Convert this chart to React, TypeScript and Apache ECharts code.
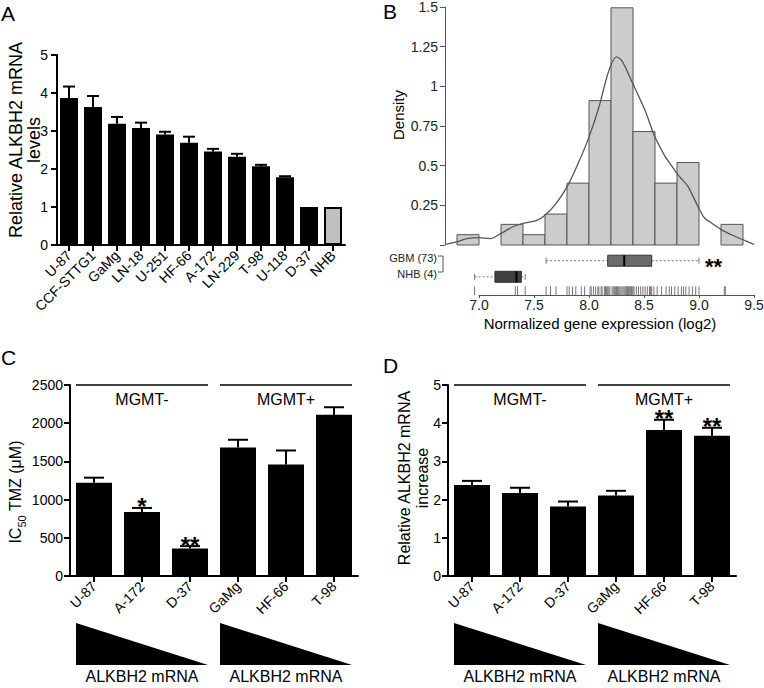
import React, { useEffect, useRef } from 'react';
import * as echarts from 'echarts';

const FONT = '"Liberation Sans", Arial, Helvetica, sans-serif';

// ---------- Panel A ----------
const aCategories = ['U-87', 'CCF-STTG1', 'GaMg', 'LN-18', 'U-251', 'HF-66', 'A-172', 'LN-229', 'T-98', 'U-118', 'D-37', 'NHB'];
const aValues = [3.87, 3.63, 3.19, 3.08, 2.91, 2.69, 2.46, 2.32, 2.07, 1.78, 1.0, 1.0];
const aErrors = [0.3, 0.29, 0.18, 0.14, 0.07, 0.16, 0.07, 0.08, 0.04, 0.03, 0, 0];
const aReference = 'NHB';

// ---------- Panel B ----------
const histEdges = [6.8, 7.0, 7.2, 7.4, 7.6, 7.8, 8.0, 8.2, 8.4, 8.6, 8.8, 9.0, 9.2, 9.4];
const histDensity = [0.065, 0, 0.13, 0.065, 0.195, 0.39, 0.91, 1.495, 0.715, 0.39, 0.52, 0, 0.13];
const densityX = [6.69, 6.8, 6.89, 7.0, 7.1, 7.2, 7.31, 7.4, 7.52, 7.6, 7.7, 7.8, 7.9, 8.0, 8.09, 8.18, 8.25, 8.3, 8.4, 8.51, 8.6, 8.69, 8.75, 8.8, 8.85, 8.9, 8.95, 9.0, 9.05, 9.12, 9.21, 9.3, 9.42, 9.5];
const densityY = [0.004, 0.02, 0.04, 0.046, 0.04, 0.073, 0.115, 0.136, 0.153, 0.188, 0.261, 0.366, 0.512, 0.68, 0.868, 1.098, 1.186, 1.16, 1.014, 0.847, 0.68, 0.56, 0.5, 0.45, 0.41, 0.37, 0.3, 0.23, 0.17, 0.136, 0.094, 0.063, 0.027, 0.004];
const gbmBox = [7.61, 8.17, 8.32, 8.57, 9.0];
const nhbBox = [6.96, 7.145, 7.34, 7.385, 7.42];
const boxLabels = ['GBM (73)', 'NHB (4)'];
const boxStars = ['**', ''];
const rugValues = [
  6.96, 7.33, 7.35, 7.42,
  7.61, 7.65, 7.70,
  7.80, 7.82, 7.85, 7.88, 7.93, 7.96,
  8.01, 8.02, 8.04, 8.06, 8.08, 8.09, 8.11, 8.12, 8.14, 8.15, 8.16, 8.17, 8.18, 8.19,
  8.21, 8.22, 8.23, 8.24, 8.25, 8.26, 8.27, 8.28, 8.29, 8.30, 8.31, 8.32, 8.33, 8.34, 8.35, 8.35, 8.36, 8.37, 8.38, 8.38, 8.39, 8.39, 8.40,
  8.41, 8.43, 8.45, 8.47, 8.49, 8.51, 8.53, 8.55, 8.56, 8.57, 8.59,
  8.62, 8.66, 8.70, 8.73, 8.75, 8.78,
  8.81, 8.84, 8.86, 8.88, 8.91, 8.94, 8.97, 9.00,
  9.23, 9.24,
];

// ---------- Panels C and D ----------
const cdCategories = ['U-87', 'A-172', 'D-37', 'GaMg', 'HF-66', 'T-98'];
const cValues = [1222, 839, 361, 1683, 1461, 2109];
const cErrors = [65, 52, 30, 100, 182, 100];
const cStars = ['', '*', '**', '', '', ''];
const dValues = [2.38, 2.17, 1.82, 2.11, 3.82, 3.67];
const dErrors = [0.11, 0.14, 0.13, 0.12, 0.27, 0.21];
const dStars = ['', '', '', '', '**', '**'];
const groupNames = ['MGMT-', 'MGMT+'];
const groupFrom = [0, 3];
const groupTo = [2, 5];
const triangleLabel = 'ALKBH2 mRNA';

function tstyle(text: string, x: number, y: number, opts: any = {}) {
  return {
    text, x, y,
    fill: opts.fill || '#000',
    fontSize: opts.fontSize || 16,
    fontFamily: FONT,
    fontWeight: opts.fontWeight || 'normal',
    lineHeight: opts.lineHeight,
    align: opts.align || 'center',
    textAlign: opts.align || 'center',
    verticalAlign: 'middle',
    textVerticalAlign: 'middle',
  };
}

function txt(text: string, x: number, y: number, opts: any = {}) {
  return { type: 'text', style: tstyle(text, x, y, opts) };
}

function rotText(id: string, text: string, x: number, y: number, opts: any = {}) {
  return { type: 'text', id, x, y, rotation: Math.PI / 2, style: tstyle(text, 0, 0, opts) };
}

function blackAxisCommon() {
  return {
    axisLine: { show: true, lineStyle: { color: '#000', width: 2 } },
    axisTick: { show: true, length: 6, lineStyle: { color: '#000', width: 2 } },
    splitLine: { show: false },
  };
}

function categoryAxis(gridIndex: number, data: string[]) {
  return {
    type: 'category', gridIndex, data,
    ...blackAxisCommon(),
    axisTick: { show: true, alignWithLabel: true, length: 6, lineStyle: { color: '#000', width: 2 } },
    axisLabel: { rotate: 45, interval: 0, fontSize: 14, color: '#000', fontFamily: FONT, margin: 8 },
  };
}

function valueAxis(gridIndex: number, max: number, interval: number, margin: number) {
  return {
    type: 'value', gridIndex, min: 0, max, interval,
    ...blackAxisCommon(),
    axisTick: { show: true, length: 6, lineStyle: { color: '#000', width: 2 } },
    axisLabel: { fontSize: 14, color: '#000', fontFamily: FONT, margin, formatter: (v: number) => String(v) },
  };
}

function errorSeries(axisIndex: number, values: number[], errors: number[], stars: string[], capWidth: number) {
  return {
    type: 'custom', xAxisIndex: axisIndex, yAxisIndex: axisIndex, clip: false, z: 5,
    data: values.map((v, i) => [i, v, v + errors[i]]),
    renderItem: (params: any, api: any) => {
      const i = api.value(0);
      const p0 = api.coord([i, api.value(1)]);
      const p1 = api.coord([i, api.value(2)]);
      const children: any[] = [];
      if (p0[1] - p1[1] > 0.5) {
        children.push({ type: 'line', shape: { x1: p0[0], y1: p0[1], x2: p1[0], y2: p1[1] }, style: { stroke: '#000', lineWidth: 2 } });
        children.push({ type: 'line', shape: { x1: p1[0] - capWidth / 2, y1: p1[1], x2: p1[0] + capWidth / 2, y2: p1[1] }, style: { stroke: '#000', lineWidth: 2 } });
      }
      const s = stars[params.dataIndex];
      if (s) children.push(txt(s, p1[0], p1[1] - 1, { fontSize: 24, fontWeight: 'bold' }));
      return { type: 'group', children };
    },
  };
}

function groupSeries(axisIndex: number, yMax: number, barW: number) {
  return {
    type: 'custom', xAxisIndex: axisIndex, yAxisIndex: axisIndex, clip: false, z: 4,
    data: groupNames.map((_, i) => [groupFrom[i], groupTo[i]]),
    renderItem: (params: any, api: any) => {
      const name = groupNames[params.dataIndex];
      const tl = api.coord([api.value(0), yMax]);
      const tr = api.coord([api.value(1), yMax]);
      const base = api.coord([api.value(0), 0])[1];
      const left = tl[0] - barW / 2;
      const right = tr[0] + barW / 2;
      const mid = (left + right) / 2;
      return {
        type: 'group',
        children: [
          { type: 'line', shape: { x1: left, y1: tl[1], x2: right, y2: tl[1] }, style: { stroke: '#000', lineWidth: 1.5 } },
          txt(name, mid, tl[1] + 14, { fontSize: 16 }),
          { type: 'polygon', shape: { points: [[left, base + 47], [left, base + 89], [right, base + 89]] }, style: { fill: '#000' } },
          txt(triangleLabel, mid, base + 100, { fontSize: 16 }),
        ],
      };
    },
  };
}

function buildOption() {
  const gridBase = { containLabel: false, outerBoundsMode: 'none' };
  const boxRowY = [2.45, 1.3];
  const boxFill = ['#6b6b6b', '#404040'];
  return {
    animation: false,
    textStyle: { fontFamily: FONT },
    grid: [
      { ...gridBase, left: 57, top: 55, width: 288, height: 190 },
      { ...gridBase, left: 445, top: 7, width: 309, height: 238 },
      { ...gridBase, left: 479, top: 253, width: 275, height: 42 },
      { ...gridBase, left: 70, top: 385, width: 288, height: 191 },
      { ...gridBase, left: 448, top: 385, width: 288, height: 191 },
    ],
    xAxis: [
      categoryAxis(0, aCategories),
      { type: 'value', gridIndex: 1, min: 6.691, max: 9.5, show: false },
      {
        type: 'value', gridIndex: 2, min: 7, max: 9.5, interval: 0.5,
        axisLine: { show: true, lineStyle: { color: '#555', width: 1 } },
        axisTick: { show: true, length: 3, lineStyle: { color: '#555', width: 1 } },
        axisLabel: { fontSize: 14, color: '#222', fontFamily: FONT, margin: 3, formatter: (v: number) => v.toFixed(1) },
        splitLine: { show: false },
      },
      categoryAxis(3, cdCategories),
      categoryAxis(4, cdCategories),
    ],
    yAxis: [
      valueAxis(0, 5, 1, 9),
      {
        type: 'value', gridIndex: 1, min: 0, max: 1.5, interval: 0.25,
        axisLine: { show: true, lineStyle: { color: '#555', width: 1 } },
        axisTick: { show: true, length: 5, lineStyle: { color: '#555', width: 1 } },
        axisLabel: { fontSize: 14, color: '#222', fontFamily: FONT, margin: 7, formatter: (v: number) => (v === 0 ? '' : String(v)) },
        splitLine: { show: false },
      },
      { type: 'value', gridIndex: 2, min: 0, max: 3, show: false },
      valueAxis(3, 2500, 500, 7),
      valueAxis(4, 5, 1, 7),
    ],
    series: [
      // A
      {
        type: 'bar', xAxisIndex: 0, yAxisIndex: 0, barWidth: 18,
        data: aValues.map((v, i) => aCategories[i] === aReference
          ? { value: v, itemStyle: { color: '#c0c0c0', borderColor: '#000', borderWidth: 2 } }
          : { value: v, itemStyle: { color: '#000' } }),
      },
      errorSeries(0, aValues, aErrors, aCategories.map(() => ''), 12),
      // B histogram
      {
        type: 'custom', xAxisIndex: 1, yAxisIndex: 1, z: 2,
        data: histDensity.map((d, i) => [histEdges[i], histEdges[i + 1], d]),
        renderItem: (params: any, api: any) => {
          const d = api.value(2);
          if (!(d > 0)) return { type: 'group', children: [] };
          const p0 = api.coord([api.value(0), d]);
          const p1 = api.coord([api.value(1), 0]);
          return { type: 'rect', shape: { x: p0[0], y: p0[1], width: p1[0] - p0[0], height: p1[1] - p0[1] }, style: { fill: '#cccccc', stroke: '#555', lineWidth: 1 } };
        },
      },
      {
        type: 'line', xAxisIndex: 1, yAxisIndex: 1, z: 3, smooth: 0.3, symbol: 'none',
        lineStyle: { color: '#555', width: 1.3 },
        data: densityX.map((x, i) => [x, densityY[i]]),
      },
      // B boxes
      {
        type: 'custom', xAxisIndex: 2, yAxisIndex: 2, clip: false, z: 3,
        data: [gbmBox, nhbBox].map((b, i) => [...b, boxRowY[i]]),
        renderItem: (params: any, api: any) => {
          const idx = params.dataIndex;
          const ry = api.value(5);
          const X = (k: number) => api.coord([api.value(k), ry])[0];
          const y = api.coord([7, ry])[1];
          const h = 11;
          const dash = { stroke: '#777', lineWidth: 1, lineDash: [2, 2] };
          const children: any[] = [
            { type: 'line', shape: { x1: X(0), y1: y, x2: X(1), y2: y }, style: dash },
            { type: 'line', shape: { x1: X(3), y1: y, x2: X(4), y2: y }, style: dash },
            { type: 'line', shape: { x1: X(0), y1: y - 3, x2: X(0), y2: y + 3 }, style: { stroke: '#777', lineWidth: 1 } },
            { type: 'line', shape: { x1: X(4), y1: y - 3, x2: X(4), y2: y + 3 }, style: { stroke: '#777', lineWidth: 1 } },
            { type: 'rect', shape: { x: X(1), y: y - h / 2, width: X(3) - X(1), height: h }, style: { fill: boxFill[idx], stroke: '#333', lineWidth: 1 } },
            { type: 'line', shape: { x1: X(2), y1: y - h / 2, x2: X(2), y2: y + h / 2 }, style: { stroke: '#000', lineWidth: 2 } },
          ];
          if (boxStars[idx]) children.push(txt(boxStars[idx], X(4) + 6, y + 5.5, { fontSize: 22, fontWeight: 'bold', align: 'left' }));
          return { type: 'group', children };
        },
      },
      // B rug
      {
        type: 'custom', xAxisIndex: 2, yAxisIndex: 2, clip: false, z: 3,
        data: rugValues.map((v) => [v, 0]),
        renderItem: (params: any, api: any) => {
          const p0 = api.coord([api.value(0), 0]);
          const p1 = api.coord([api.value(0), 0.62]);
          return { type: 'line', shape: { x1: p0[0], y1: p0[1], x2: p1[0], y2: p1[1] }, style: { stroke: '#777', lineWidth: 1 } };
        },
      },
      // C
      { type: 'bar', xAxisIndex: 3, yAxisIndex: 3, barWidth: 36, itemStyle: { color: '#000' }, data: cValues },
      errorSeries(3, cValues, cErrors, cStars, 20),
      groupSeries(3, 2500, 36),
      // D
      { type: 'bar', xAxisIndex: 4, yAxisIndex: 4, barWidth: 36, itemStyle: { color: '#000' }, data: dValues },
      errorSeries(4, dValues, dErrors, dStars, 20),
      groupSeries(4, 5, 36),
    ],
    graphic: [
      { ...txt('A', 1, 13, { fontSize: 21, align: 'left' }), id: 'la' },
      { ...txt('B', 383, 11, { fontSize: 21, align: 'left' }), id: 'lb' },
      { ...txt('C', 1, 357, { fontSize: 21, align: 'left' }), id: 'lc' },
      { ...txt('D', 383, 365, { fontSize: 21, align: 'left' }), id: 'ld' },
      rotText('ya', 'Relative ALKBH2 mRNA\nlevels', 25, 140, { fontSize: 18, lineHeight: 18 }),
      rotText('yb', 'Density', 398, 115, { fontSize: 15 }),
      { ...txt('Normalized gene expression (log2)', 600, 323, { fontSize: 15 }), id: 'xb' },
      { ...txt(boxLabels[0], 437, 258, { fontSize: 11, fill: '#222', align: 'right' }), id: 'gl' },
      { ...txt(boxLabels[1], 437, 274, { fontSize: 11, fill: '#222', align: 'right' }), id: 'nl' },
      { type: 'polyline', id: 'br', shape: { points: [[438, 256], [443, 256], [443, 272], [438, 272]] }, style: { stroke: '#555', lineWidth: 1, fill: 'none' } },
      {
        type: 'text', id: 'yc', rotation: Math.PI / 2, x: 15, y: 492,
        style: {
          text: '{a|IC}{b|50}{a| TMZ (\u03bcM)}',
          x: 0, y: 0, align: 'center', textAlign: 'center', verticalAlign: 'middle', textVerticalAlign: 'middle',
          fill: '#000', fontFamily: FONT,
          rich: {
            a: { fontSize: 16, fontFamily: FONT, lineHeight: 24, fill: '#000' },
            b: { fontSize: 11, fontFamily: FONT, lineHeight: 10, verticalAlign: 'bottom', fill: '#000' },
          },
        },
      },
      rotText('yd', 'Relative ALKBH2 mRNA\nincrease', 413, 478, { fontSize: 16, lineHeight: 18 }),
    ],
  };
}

export default function App() {
  const ref = useRef<HTMLDivElement>(null);
  useEffect(() => {
    if (!ref.current) return;
    const chart = echarts.init(ref.current, null, { renderer: 'svg' });
    chart.setOption(buildOption() as any);
    return () => chart.dispose();
  }, []);
  return <div ref={ref} style={{ position: 'absolute', left: 0, top: 0, width: 764, height: 688 }} />;
}
